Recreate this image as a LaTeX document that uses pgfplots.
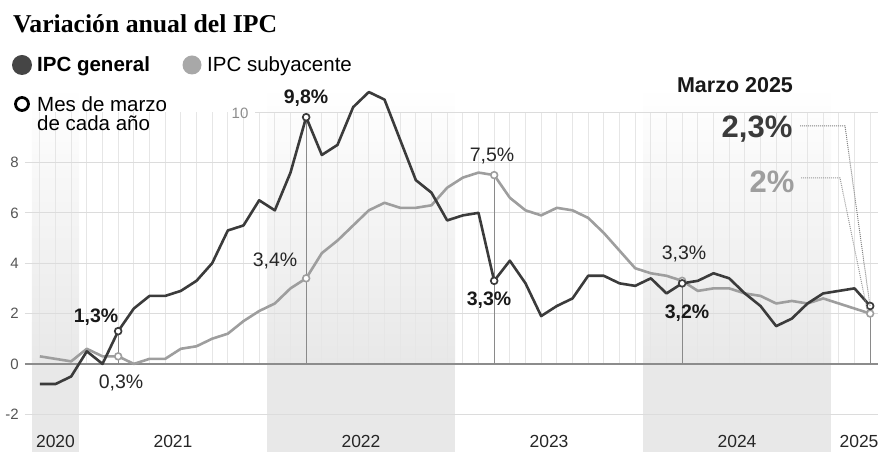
\documentclass[border=0pt]{standalone}
\usepackage{fontspec}
\setmainfont{Liberation Sans}
\newfontfamily\titlefont{Liberation Serif}
\usepackage{pgfplots}
\pgfplotsset{compat=1.18}
\definecolor{gen}{HTML}{3B3B3B}
\definecolor{sub}{HTML}{9E9E9E}
\definecolor{gridc}{HTML}{DCDCDC}
\definecolor{zeroc}{HTML}{8C8C8C}
\definecolor{bandc}{HTML}{E8E8E8}
\definecolor{monthc}{HTML}{E6E6E6}
\definecolor{dropc}{HTML}{8A8A8A}
\definecolor{tickc}{HTML}{555555}
\newcommand{\fs}[1]{\fontsize{#1}{#1}\selectfont}
\begin{document}
\begin{tikzpicture}[x=1pt,y=1pt]
\useasboundingbox (0,0) rectangle (880,452);
\begin{axis}[
  at={(32pt,0pt)}, anchor=south west, scale only axis,
  width=846pt, height=365pt,
  xmin=0, xmax=54, ymin=-3.5, ymax=11,
  clip=false,
  axis line style={draw=none},
  tick style={draw=none},
  ytick={-2,0,2,4,6,8},
  yticklabel style={inner sep=0pt, xshift=-13pt, font=\fs{15}, text=tickc},
  xtick=\empty,
  /pgf/number format/assume math mode=true,
]
% year bands
\fill[bandc] (axis cs:0,-3.5) rectangle (axis cs:3,0);
\shade[bottom color=bandc, top color=white] (axis cs:0,0) rectangle (axis cs:3,11);
\fill[bandc] (axis cs:15,-3.5) rectangle (axis cs:27,0);
\shade[bottom color=bandc, top color=white] (axis cs:15,0) rectangle (axis cs:27,11);
\fill[bandc] (axis cs:39,-3.5) rectangle (axis cs:51,0);
\shade[bottom color=bandc, top color=white] (axis cs:39,0) rectangle (axis cs:51,11);
% month lines
\pgfplotsinvokeforeach{0,...,53}{\draw[monthc, line width=0.8pt] (axis cs:#1.5,0) -- (axis cs:#1.5,10);}
% grid
\pgfplotsinvokeforeach{-2,2,4,6,8}{\draw[gridc, line width=1.1pt] (axis cs:-0.45,#1) -- (axis cs:54,#1);}
\draw[gridc, line width=1.1pt] (axis cs:14.25,10) -- (axis cs:54,10);
\draw[zeroc, line width=1.4pt] (axis cs:-0.45,0) -- (axis cs:54,0);
% drop lines at March
\addplot[dropc, line width=1.1pt] coordinates {(5.5,0) (5.5,1.3)};
\addplot[dropc, line width=1.1pt] coordinates {(17.5,0) (17.5,9.8)};
\addplot[dropc, line width=1.1pt] coordinates {(29.5,0) (29.5,7.5)};
\addplot[dropc, line width=1.1pt] coordinates {(41.5,0) (41.5,3.3)};
\addplot[dropc, line width=1.1pt] coordinates {(53.5,0) (53.5,2.3)};
% data
\pgfplotstableread{
x g s
0.5 -0.8 0.3
1.5 -0.8 0.2
2.5 -0.5 0.1
3.5 0.5 0.6
4.5 0.0 0.3
5.5 1.3 0.3
6.5 2.2 0.0
7.5 2.7 0.2
8.5 2.7 0.2
9.5 2.9 0.6
10.5 3.3 0.7
11.5 4.0 1.0
12.5 5.3 1.2
13.5 5.5 1.7
14.5 6.5 2.1
15.5 6.1 2.4
16.5 7.6 3.0
17.5 9.8 3.4
18.5 8.3 4.4
19.5 8.7 4.9
20.5 10.2 5.5
21.5 10.8 6.1
22.5 10.5 6.4
23.5 8.9 6.2
24.5 7.3 6.2
25.5 6.8 6.3
26.5 5.7 7.0
27.5 5.9 7.4
28.5 6.0 7.6
29.5 3.3 7.5
30.5 4.1 6.6
31.5 3.2 6.1
32.5 1.9 5.9
33.5 2.3 6.2
34.5 2.6 6.1
35.5 3.5 5.8
36.5 3.5 5.2
37.5 3.2 4.5
38.5 3.1 3.8
39.5 3.4 3.6
40.5 2.8 3.5
41.5 3.2 3.3
42.5 3.3 2.9
43.5 3.6 3.0
44.5 3.4 3.0
45.5 2.8 2.8
46.5 2.3 2.7
47.5 1.5 2.4
48.5 1.8 2.5
49.5 2.4 2.4
50.5 2.8 2.6
51.5 2.9 2.4
52.5 3.0 2.2
53.5 2.3 2.0
}\ipcdata
\addplot[sub, line width=2.6pt, line join=round] table[x=x, y=s] {\ipcdata};
\addplot[gen, line width=2.6pt, line join=round] table[x=x, y=g] {\ipcdata};
\addplot[only marks, mark=*, mark size=3.4pt, mark options={draw=sub, fill=white, line width=1.6pt}] coordinates {(5.5,0.3) (17.5,3.4) (29.5,7.5) (41.5,3.3) (53.5,2.0)};
\addplot[only marks, mark=*, mark size=3.4pt, mark options={draw=gen, fill=white, line width=1.7pt}] coordinates {(5.5,1.3) (17.5,9.8) (29.5,3.3) (41.5,3.2) (53.5,2.3)};
\end{axis}
% year labels
\foreach \xx/\yy in {55.5/2020, 173/2021, 361/2022, 549/2023, 737/2024, 859/2025}
  \node[font=\fs{17.5}, text=black!85] at (\xx,11) {\yy};
% y label 10
\node[font=\fs{15}, text=black!45] at (240,339) {10};
% title
\node[anchor=base west, inner sep=0pt, font=\titlefont\bfseries\fs{25.7}] at (13,419) {Variación anual del IPC};
% legend
\fill[gen!95] (22,387) circle (10pt);
\node[anchor=base west, inner sep=0pt, font=\bfseries\fs{20.5}] at (37,380) {IPC general};
\fill[sub!90] (192,387) circle (9.5pt);
\node[anchor=base west, inner sep=0pt, font=\fs{20.5}] at (207,380) {IPC subyacente};
\draw[black, line width=2.8pt] (22,348) circle (6.5pt);
\node[anchor=base west, inner sep=0pt, font=\fs{20.5}] at (37,340) {Mes de marzo};
\node[anchor=base west, inner sep=0pt, font=\fs{20.5}] at (37,321) {de cada año};
% annotations
\node[font=\bfseries\fs{19.5}, text=black!90] at (96,135) {1,3\%};
\node[font=\fs{19.5}, text=black!85] at (121,69) {0,3\%};
\node[font=\fs{19.5}, text=black!85] at (275,191) {3,4\%};
\node[font=\bfseries\fs{19.5}, text=black!90] at (306,354) {9,8\%};
\node[font=\fs{19.5}, text=black!85] at (492,296) {7,5\%};
\node[font=\bfseries\fs{19.5}, text=black!90] at (489,152) {3,3\%};
\node[font=\fs{19.5}, text=black!85] at (684,198) {3,3\%};
\node[font=\bfseries\fs{19.5}, text=black!90] at (687,139) {3,2\%};
\node[font=\bfseries\fs{21.5}, text=black!90] at (735,367) {Marzo 2025};
\node[font=\bfseries\fs{31}, text=gen] at (757,323) {2,3\%};
\node[font=\bfseries\fs{31}, text=sub] at (772,270) {2\%};
\draw[black!50, densely dotted, line width=1pt] (800,326) -- (845,326) -- (870,146);
\draw[black!40, densely dotted, line width=1pt] (801,274) -- (840,274) -- (868,138);
\end{tikzpicture}
\end{document}
